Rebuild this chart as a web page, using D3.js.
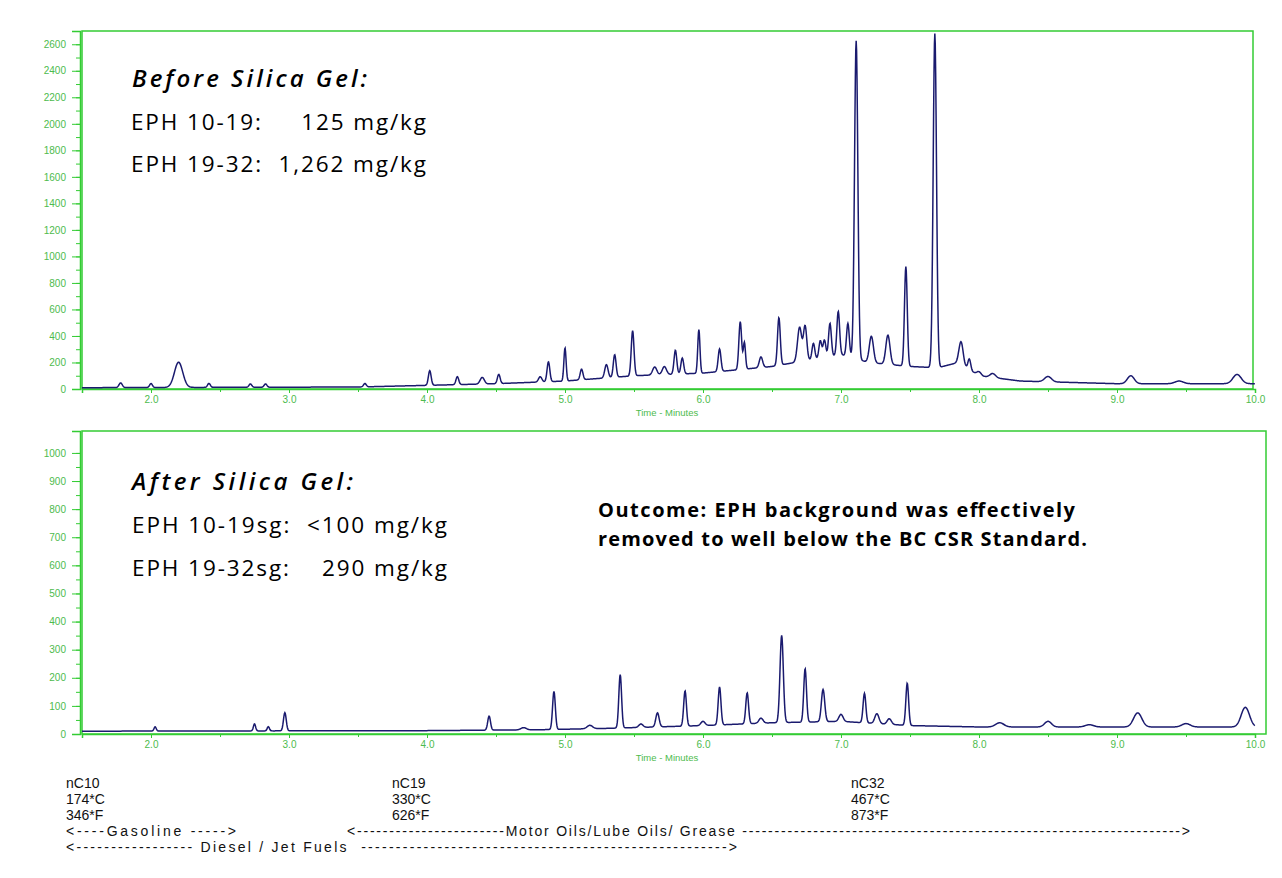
<!DOCTYPE html>
<html><head><meta charset="utf-8">
<script src="https://cdn.jsdelivr.net/npm/d3@7"></script>
<style>body{margin:0;background:#fff}svg{display:block}</style>
</head><body>
<script>
// --- data ---
const topPeaksT = [1.78,2.0,2.2,2.42,2.72,2.83,3.55,4.02,4.22,4.4,4.52,4.82,4.88,5.0,5.12,5.3,5.36,5.49,5.65,5.72,5.8,5.85,5.97,6.12,6.27,6.3,6.42,6.55,6.7,6.74,6.8,6.85,6.88,6.92,6.98,7.05,7.11,7.22,7.34,7.47,7.68,7.87,7.93,8.0,8.1,8.5,9.1,9.45,9.87];
const topPeaksH = [35,30,190,30,25,25,25,110,60,50,70,40,150,250,80,100,170,340,60,60,180,120,330,170,360,200,80,360,260,260,120,130,130,250,330,250,2400,200,220,750,2520,170,80,30,30,40,60,20,70];
const topPeaksW = [0.012,0.01,0.03,0.01,0.01,0.01,0.01,0.01,0.01,0.015,0.01,0.012,0.01,0.008,0.01,0.012,0.01,0.01,0.015,0.015,0.01,0.01,0.008,0.01,0.01,0.008,0.012,0.01,0.015,0.012,0.01,0.01,0.01,0.01,0.01,0.01,0.012,0.015,0.015,0.01,0.012,0.015,0.01,0.015,0.02,0.025,0.025,0.03,0.03];
const topBaseT = [1.5,3.5,4.5,5.0,5.5,6.0,6.5,7.0,7.2,7.5,7.7,7.85,8.0,8.3,9.0,10.0];
const topBaseV = [10,15,40,60,100,120,170,260,200,170,160,200,100,60,40,40];

const botPeaksT = [2.03,2.75,2.85,2.97,4.45,4.7,4.92,5.18,5.4,5.55,5.67,5.87,6.0,6.12,6.32,6.42,6.57,6.74,6.87,7.0,7.17,7.26,7.35,7.48,8.15,8.5,8.8,9.15,9.5,9.93];
const botPeaksH = [15,25,15,65,50,8,135,12,190,12,50,125,15,135,110,18,310,190,115,25,105,35,20,150,15,20,8,50,12,70];
const botPeaksW = [0.008,0.008,0.008,0.01,0.01,0.02,0.01,0.02,0.01,0.015,0.012,0.01,0.015,0.01,0.01,0.015,0.012,0.01,0.012,0.015,0.01,0.015,0.015,0.01,0.03,0.025,0.03,0.03,0.03,0.03];
const botBaseT = [1.5,4.0,4.8,5.3,6.0,6.5,7.0,7.5,8.0,9.0,10.0];
const botBaseV = [10,12,15,20,30,40,45,30,25,25,25];

const xTicks = [2,3,4,5,6,7,8,9,10];
const topYTicks = [0,200,400,600,800,1000,1200,1400,1600,1800,2000,2200,2400,2600];
const botYTicks = [0,100,200,300,400,500,600,700,800,900,1000];

const W=1282,H=878, green="#33cc33", navy="#1a1a6e";
const svg=d3.select("body").append("svg").attr("width",W).attr("height",H);

function signal(pT,pH,pW,bT,bV){
  const base=d3.scaleLinear().domain(bT).range(bV);
  return d3.range(1.5,10.0001,0.003).map(t=>{
    let v=base(t);
    pT.forEach((c,i)=>{const d=(t-c)/pW[i];v+=pH[i]*Math.exp(-0.5*d*d);});
    return [t,v];
  });
}

function panel(y0,y1,ymax,yticks,minorStep,pT,pH,pW,bT,bV,right){
  const x=d3.scaleLinear().domain([1.5,10]).range([82,1255]);
  const y=d3.scaleLinear().domain([0,ymax]).range([y1,y0]);
  const g=svg.append("g");
  g.append("rect").attr("x",82).attr("y",y(ymax)).attr("width",right-82).attr("height",y1-y(ymax))
    .attr("fill","none").attr("stroke",green).attr("stroke-width",1.5);
  const ya=d3.axisLeft(y).tickValues(yticks).tickSize(8).tickPadding(6).tickFormat(d3.format("d"));
  g.append("g").attr("transform","translate(80,0)").call(ya);
  const yminor=d3.axisLeft(y).tickValues(d3.range(0,yticks[yticks.length-1]+1,minorStep)).tickSize(4).tickFormat("");
  g.append("g").attr("transform","translate(80,0)").call(yminor).call(s=>s.select(".domain").remove());
  const xa=d3.axisBottom(x).tickValues(xTicks).tickSize(4).tickFormat(d3.format(".1f"));
  g.append("g").attr("transform",`translate(0,${y1})`).call(xa);
  g.append("g").attr("transform",`translate(0,${y1})`).call(d3.axisBottom(x).tickValues(d3.range(2.5,10,1)).tickSize(3).tickFormat("")).call(s=>s.select(".domain").remove());
  g.selectAll(".domain").attr("stroke",green).attr("stroke-width",1.5);
  g.selectAll(".tick line").attr("stroke",green);
  g.selectAll(".tick text").attr("fill","#4dbb4d").attr("font-family","Liberation Sans, Arial").attr("font-size",10);
  g.append("text").attr("x",667).attr("y",y1+27).attr("text-anchor","middle").attr("fill","#4dbb4d")
    .attr("font-family","Liberation Sans, Arial").attr("font-size",9.5).text("Time - Minutes");
  const data=signal(pT,pH,pW,bT,bV);
  g.append("path").datum(data).attr("fill","none").attr("stroke",navy).attr("stroke-width",1.5)
    .attr("d",d3.line().x(d=>x(d[0])).y(d=>y(Math.min(d[1],ymax))));
}
panel(31,389,2700,topYTicks,100,topPeaksT,topPeaksH,topPeaksW,topBaseT,topBaseV,1253);
panel(431,734,1078,botYTicks,50,botPeaksT,botPeaksH,botPeaksW,botBaseT,botBaseV,1266);

const f="'Open Sans', 'Noto Sans', sans-serif";
function t(x,y,s,size,len,weight,style){svg.append("text").attr("x",x).attr("y",y).attr("font-family",f).attr("font-size",size)
  .attr("font-weight",weight||"normal").attr("font-style",style||"normal").attr("fill","#000")
  .attr("textLength",len).attr("lengthAdjust","spacing").style("white-space","pre").text(s);}
t(132,87,"Before Silica Gel:",24,235,"600","italic");
t(131,130,"EPH 10-19:     125 mg/kg",22.5,295);
t(131,172,"EPH 19-32:  1,262 mg/kg",22.5,295);
t(132,490,"After Silica Gel:",24,221,"600","italic");
t(132,533,"EPH 10-19sg:  <100 mg/kg",22.5,315);
t(132,576,"EPH 19-32sg:    290 mg/kg",22.5,315);
t(598,517,"Outcome: EPH background was effectively",20,477,"bold");
t(598,546,"removed to well below the BC CSR Standard.",20,489,"bold");

const a="'Liberation Sans', Arial, sans-serif";
function b(x,y,s,len){const e=svg.append("text").attr("x",x).attr("y",y).attr("font-family",a).attr("font-size",14).attr("fill","#111").style("white-space","pre").text(s);
  if(len) e.attr("textLength",len).attr("lengthAdjust","spacing");}
b(66,788,"nC10");b(66,804,"174*C");b(66,820,"346*F");
b(392,788,"nC19");b(392,804,"330*C");b(392,820,"626*F");
b(851,788,"nC32");b(851,804,"467*C");b(851,820,"873*F");
b(66,836,"<----Gasoline ----->",170);
b(347,836,"<-----------------------Motor Oils/Lube Oils/ Grease -------------------------------------------------------------------->",843);
b(66,852,"<----------------- Diesel / Jet Fuels  ----------------------------------------------------->",671);
</script>
</body></html>
